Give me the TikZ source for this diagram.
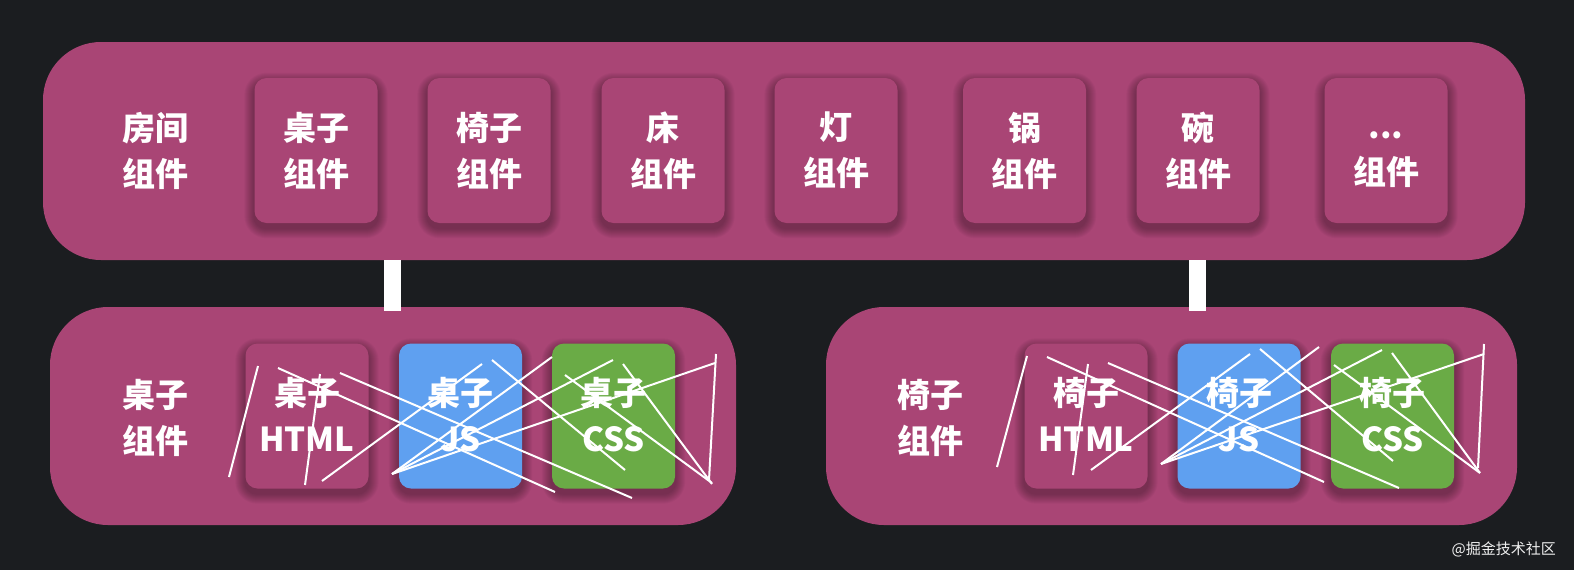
\documentclass[tikz,border=0pt]{standalone}
\usepackage{fontspec}
\setmainfont{Noto Sans CJK SC}
\definecolor{bgc}{HTML}{1B1D20}
\definecolor{mag}{HTML}{A94575}
\definecolor{jsblue}{HTML}{5FA0F0}
\definecolor{cssgreen}{HTML}{6AAB46}
\pgfdeclarelayer{back}
\pgfdeclarelayer{shad}
\pgfsetlayers{back,shad,main}
\tikzset{
  container/.style={fill=mag, rounded corners=58pt, minimum width=#1, minimum height=218pt, inner sep=0pt},
  card/.style={fill=mag, rounded corners=12pt, minimum width=123pt, minimum height=145pt, inner sep=0pt,
    text=white, font=\bfseries\fontsize{33}{46}\selectfont, align=center},
  lbl/.style={text=white, font=\bfseries\fontsize{33}{46}\selectfont, align=center, inner sep=0pt},
  link/.style={draw=white, line width=17pt},
  scribble/.style={draw=white, line width=2pt},
  wmark/.style={text=white!88!gray, font=\fontsize{15}{17}\selectfont, inner sep=0pt}
}
\newcommand{\cardshadow}[1]{%
  \begin{pgfonlayer}{shad}
  \foreach \i in {1,...,10}{%
    \pgfmathsetmacro\rr{12+\i}%
    \pgfmathsetmacro\lo{-5-\i}%
    \pgfmathsetmacro\hi{-5+\i}%
    \fill[black, opacity=0.03, rounded corners=\rr pt]
      ([xshift=-\i pt, yshift=\lo pt]#1.south west) rectangle ([xshift=\i pt, yshift=\hi pt]#1.north east);
  }
  \end{pgfonlayer}}
\newcommand{\ph}{\vphantom{组}}
\begin{document}
\begin{tikzpicture}[x=1pt,y=-1pt]
\useasboundingbox (0,0) rectangle (1574,570);
\begin{pgfonlayer}{back}
\fill[bgc] (0,0) rectangle (1574,570);
\node[container=1482pt] (room) at (784,151) {};
\node[container=686pt] (desk) at (393,416) {};
\node[container=691pt] (chair) at (1171.5,416) {};
\end{pgfonlayer}

% top row
\node[lbl] (roomlbl) at (155,151) {房间\\组件};
\node[card] (c1) at (316,150.5) {桌子\\组件};
\node[card] (c2) at (489,150.5) {椅子\\组件};
\node[card] (c3) at (663,150.5) {床\\组件};
\node[card] (c4) at (836,150.5) {灯\\组件};
\node[card] (c5) at (1024.5,150.5) {锅\\组件};
\node[card] (c6) at (1198,150.5) {碗\\组件};
\node[card] (c7) at (1386,150.5) {\rule{0pt}{0.74em}...\\组件};
\foreach \n in {c1,c2,c3,c4,c5,c6,c7} {\cardshadow{\n}}

% links
\coordinate (xa) at (392.5,0);
\coordinate (xb) at (1197.5,0);
\draw[link, shorten >=-4pt] (room.south -| xa) -- (desk.north -| xa);
\draw[link, shorten >=-4pt] (room.south -| xb) -- (chair.north -| xb);

% bottom-left
\node[lbl] (desklbl) at (155,418) {桌子\\组件};
\node[card] (dh) at (307,416) {桌子\\HTML\ph};
\node[card, fill=jsblue] (dj) at (460.5,416) {桌子\\JS\ph};
\node[card, fill=cssgreen] (dc) at (613.5,416) {桌子\\CSS\ph};
% bottom-right
\node[lbl] (chairlbl) at (930,418) {椅子\\组件};
\node[card] (ch) at (1086,416) {椅子\\HTML\ph};
\node[card, fill=jsblue] (cj) at (1239,416) {椅子\\JS\ph};
\node[card, fill=cssgreen] (cc) at (1392.5,416) {椅子\\CSS\ph};
\foreach \n in {dh,dj,dc,ch,cj,cc} {\cardshadow{\n}}

% scribbles left
\draw[scribble] (258,366)--(229,477);
\draw[scribble] (278,368)--(555,492);
\draw[scribble] (320,374)--(305,485);
\draw[scribble] (340,373)--(632,498);
\draw[scribble] (322,481)--(482,364);
\draw[scribble] (392,474)--(552,357);
\draw[scribble] (392,474)--(613,360);
\draw[scribble] (392,474)--(715,363);
\draw[scribble] (716,354)--(709,480);
\draw[scribble] (492,360)--(625,470);
\draw[scribble] (565,375)--(712,483);
\draw[scribble] (623,364)--(712,484);
% scribbles right
\draw[scribble] (1027,356)--(997,467);
\draw[scribble] (1047,357)--(1324,482);
\draw[scribble] (1088,364)--(1073,475);
\draw[scribble] (1108,363)--(1399,488);
\draw[scribble] (1091,470)--(1250,354);
\draw[scribble] (1161,464)--(1319,347);
\draw[scribble] (1161,464)--(1382,350);
\draw[scribble] (1161,464)--(1484,354);
\draw[scribble] (1484,344)--(1478,468);
\draw[scribble] (1260,349)--(1393,461);
\draw[scribble] (1334,365)--(1480,473);
\draw[scribble] (1392,353)--(1480,473);

\node[wmark, anchor=east] (wm) at (1556,549) {@掘金技术社区};
\end{tikzpicture}
\end{document}
